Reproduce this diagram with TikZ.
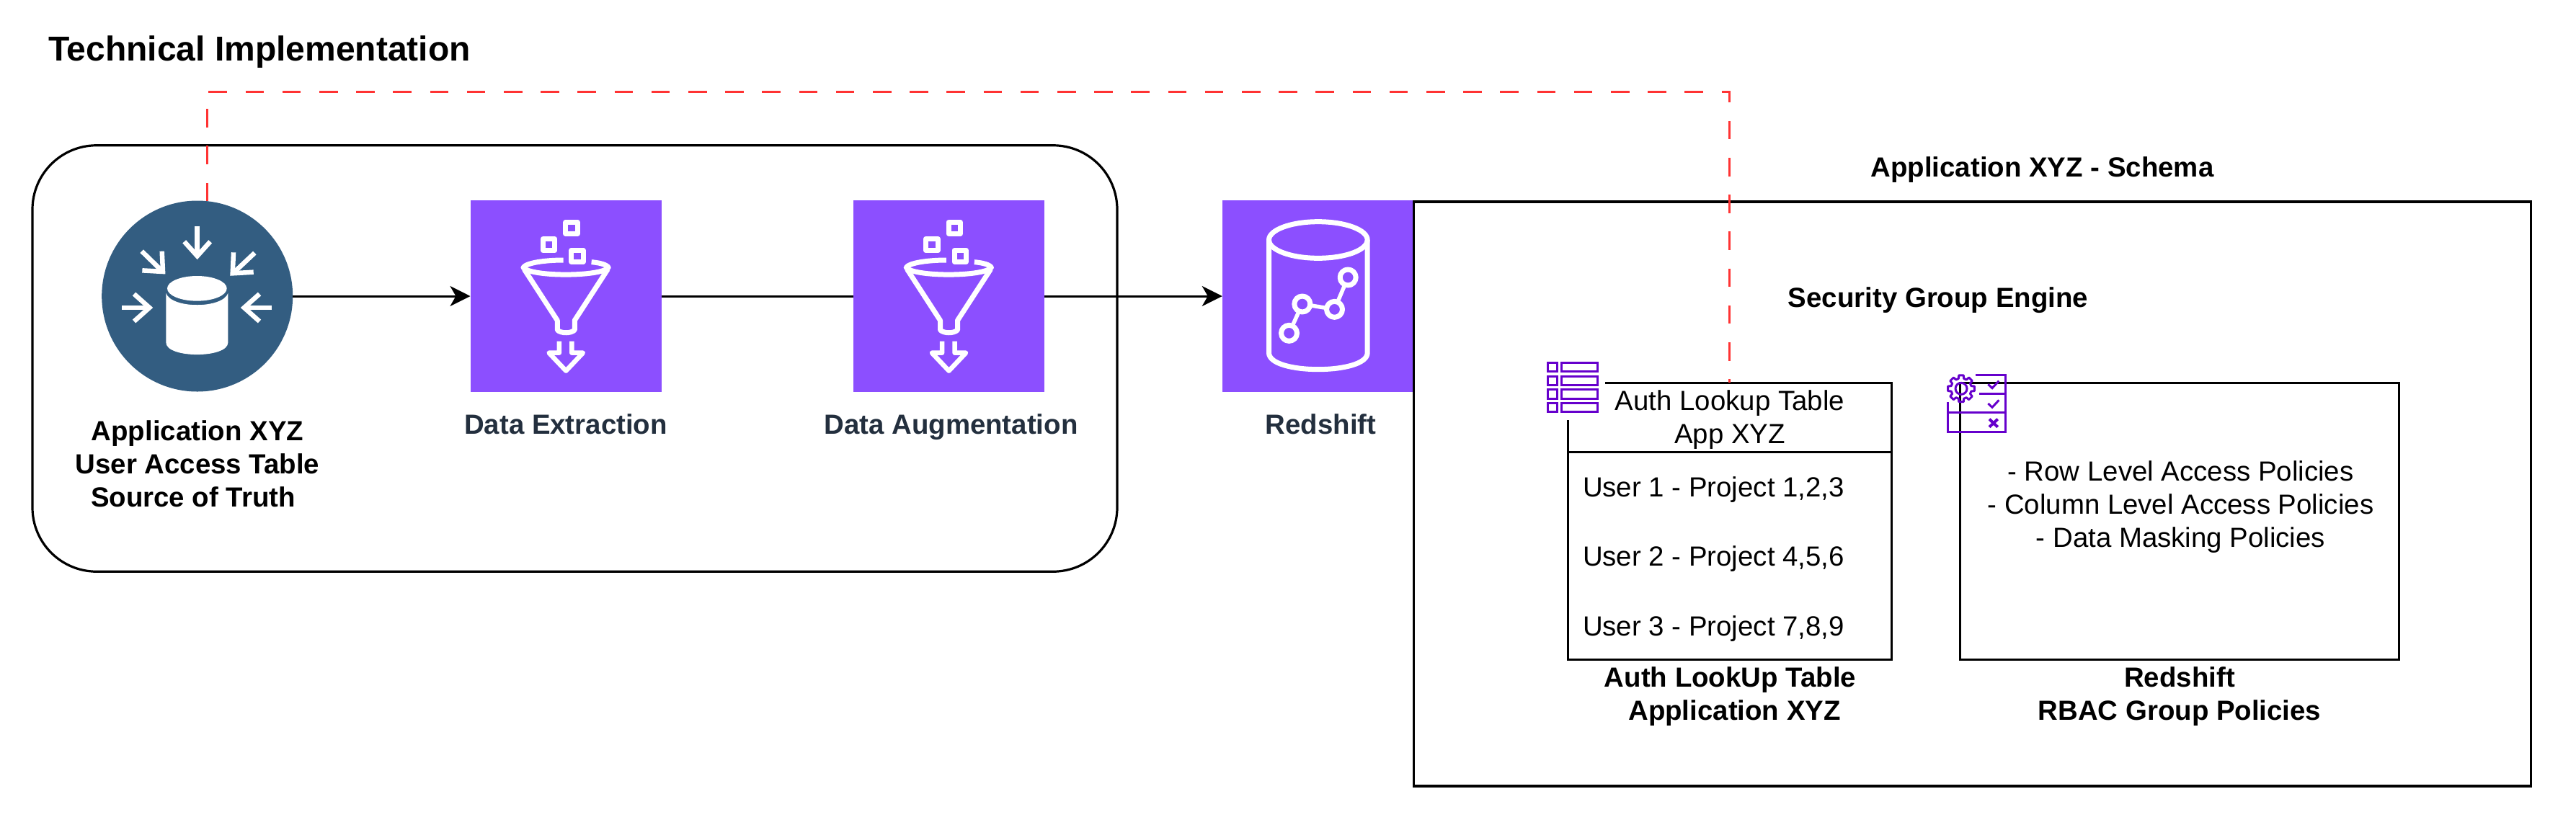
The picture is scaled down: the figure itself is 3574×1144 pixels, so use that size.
\documentclass[tikz,border=0pt]{standalone}
\usepackage{fontspec}
\setmainfont{Liberation Sans}
\usetikzlibrary{arrows.meta}
\definecolor{awspurple}{HTML}{8C4FFF}
\definecolor{srcblue}{HTML}{335D81}
\definecolor{reddash}{HTML}{FF3333}
\definecolor{awsdark}{HTML}{232F3E}
\definecolor{iconpurple}{HTML}{6600CC}
\tikzset{
  bodyfont/.style={font=\fontsize{38.4}{46}\selectfont},
  lbl/.style={bodyfont,inner sep=0pt,outer sep=0pt,align=center,text=black},
  lblbold/.style={font=\fontsize{38.4}{46}\selectfont\bfseries,inner sep=0pt,outer sep=0pt,align=center,text=black},
  awslabel/.style={lblbold,text=awsdark,anchor=base},
  purplebox/.style={rectangle,fill=awspurple,minimum size=265.5pt,inner sep=0pt,outer sep=0pt},
  plainbox/.style={rectangle,draw=black,line width=3pt,inner sep=0pt,outer sep=0pt},
  flow/.style={draw=black,line width=3pt,-{Stealth[length=28pt,width=28pt,inset=8pt]}},
  plainflow/.style={draw=black,line width=3pt},
  authlink/.style={draw=reddash,line width=3.2pt,dash pattern=on 25.6pt off 25.6pt},
  whitestroke/.style={draw=white,line width=7pt,line join=round},
  purplestroke/.style={draw=iconpurple,line width=3pt,line join=miter},
  funnelicon/.pic={
    \begin{scope}[x=.33333pt,y=-.33333pt,shift={(-436,-424)}]
      \draw[whitestroke] (425,274) .. controls (350,274) and (270,285) .. (258,305)
        .. controls (290,344) and (580,344) .. (613,305)
        .. controls (605,292) and (575,285) .. (542,282);
      \draw[whitestroke] (262,312) -- (400,525) -- (400,565)
        .. controls (415,580) and (457,580) .. (472,565) -- (472,525) -- (610,312);
      \foreach \cx/\cy in {459/140,365/210,483/257}
        \draw[whitestroke] (\cx-24.5,\cy-24.5) rectangle (\cx+24.5,\cy+24.5);
      \draw[whitestroke,line width=6.5pt] (408,612) -- (408,660) -- (365,660) -- (436,735)
        -- (507,660) -- (460,660) -- (460,612);
    \end{scope}
  },
  sourceicon/.pic={
    \begin{scope}[x=.33333pt,y=-.33333pt,shift={(-521,-452)}]
      \fill[white] (520,420) ellipse [x radius=124,y radius=52];
      \fill[white] (391,440) -- (391,645) .. controls (391,712) and (649,712) .. (649,645)
        -- (649,440) .. controls (625,505) and (415,505) .. (391,440) -- cycle;
      \begin{scope}[draw=white,line width=6.5pt,line join=miter]
        \draw (521,160) -- (521,280);
        \draw (467,225) -- (521,285) -- (575,225);
        \draw (208,500) -- (318,500);
        \draw (258,443) -- (322,500) -- (258,557);
        \draw (830,500) -- (722,500);
        \draw (780,443) -- (716,500) -- (780,557);
        \draw (290,265) -- (372,345);
        \draw (374,265) -- (378,350) -- (292,345);
        \draw (760,272) -- (675,352);
        \draw (672,270) -- (668,357) -- (755,352);
      \end{scope}
    \end{scope}
  },
  redshifticon/.pic={
    \begin{scope}[x=.33333pt,y=-.33333pt,shift={(-415,-424)}]
      \draw[whitestroke] (416,190) ellipse [x radius=205,y radius=76];
      \draw[whitestroke] (211,190) -- (211,660) .. controls (211,752) and (621,752) .. (621,660) -- (621,190);
      \draw[whitestroke,line width=5.5pt] (295,578) -- (350,457) -- (484,479) -- (540,346);
      \foreach \cx/\cy in {295/578,350/457,484/479,540/346}
        \draw[whitestroke,fill=awspurple] (\cx,\cy) circle [radius=33];
    \end{scope}
  },
  tableicon/.pic={
    \begin{scope}[x=.33333pt,y=-.33333pt]
      \foreach \ya/\yb in {70/107,126/163,182/219,237/275}{
        \draw[purplestroke] (53,\ya) rectangle (92,\yb);
        \draw[purplestroke] (110,\ya) rectangle (258,\yb);
      }
    \end{scope}
  },
  policyicon/.pic={
    \begin{scope}[x=.33333pt,y=-.33333pt]
      \draw[purplestroke] (152,60) -- (276,60) -- (276,298) -- (36,298) -- (36,175);
      \draw[purplestroke] (168,140) -- (276,140);
      \draw[purplestroke] (36,218) -- (276,218);
      \draw[purplestroke] (205,100) -- (222,116) -- (250,86);
      \draw[purplestroke] (205,180) -- (222,196) -- (250,166);
      \draw[purplestroke,line width=4pt] (210,245) -- (245,278) (245,245) -- (210,278);
      \begin{scope}[shift={(93,118)}]
        \draw[purplestroke,line join=round] (-10:56)
          \foreach \k in {0,...,7}{ -- (\k*45-10:56) -- (\k*45+10:56) -- (\k*45+15:43) -- (\k*45+30:43) } -- cycle;
        \draw[purplestroke] (0,0) circle [radius=24];
      \end{scope}
    \end{scope}
  }
}
\begin{document}
\begin{tikzpicture}[x=1pt,y=-1pt]
  \useasboundingbox (0,0) rectangle (3574,1144);

  \node[rectangle,draw=black,line width=3.2pt,rounded corners=89pt,minimum width=1505pt,minimum height=591.5pt,inner sep=0pt,outer sep=0pt] (pipeline) at (797.5,497.5) {};

  \node[circle,fill=srcblue,minimum size=265pt,inner sep=0pt,outer sep=0pt] (src) at (273.7,411) {};
  \pic at (src) {sourceicon};
  \node[purplebox] (ext) at (785.25,411) {};
  \pic at (ext) {funnelicon};
  \node[purplebox] (aug) at (1316.5,411) {};
  \pic at (aug) {funnelicon};
  \node[purplebox] (red) at (1828.5,411) {};
  \pic at (red) {redshifticon};

  \draw[flow] (src) -- (ext);
  \draw[plainflow] (ext) -- (aug);
  \draw[flow] (aug) -- (red);

  \node[plainbox,line width=3.4pt,minimum width=1550pt,minimum height=811pt] (schema) at (2736.5,685.5) {};

  \node[plainbox,minimum width=449pt,minimum height=384pt] (tbl) at (2399.5,723) {};
  \draw[plainflow] (tbl.west |- 0,627) -- (tbl.east |- 0,627);
  \fill[white] (2137,493) rectangle (2226.5,582.5);
  \pic at (2130,480) {tableicon};

  \node[plainbox,minimum width=609pt,minimum height=384pt] (rbac) at (3023.5,723) {};
  \pic at (2690,500) {policyicon};

  \coordinate (turn) at (2399.5,127.5);
  \draw[authlink] (src.84) |- (turn) -- (tbl.north);

  \node[lblbold,anchor=base west,font=\fontsize{48}{57}\selectfont\bfseries] (title) at (67,84) {Technical Implementation};
  \node[lblbold,anchor=base] (srclabel) at (274,703) {Application XYZ\\User Access Table\\Source of Truth\hspace*{12pt}};
  \node[awslabel] (extlabel) at (785,602) {Data Extraction};
  \node[awslabel] (auglabel) at (1319.5,602) {Data Augmentation};
  \node[awslabel] (redlabel) at (1832.5,602) {Redshift};
  \node[lblbold,anchor=base] (schemalabel) at (2833.5,245) {Application XYZ - Schema};
  \node[lblbold,anchor=base] (enginelabel) at (2689,426) {Security Group Engine};
  \node[lbl,anchor=base] (tblhead) at (2400,615) {Auth Lookup Table\\App XYZ};
  \node[lbl,anchor=base west,align=left,font=\fontsize{38.4}{96.5}\selectfont] (tblrows) at (2196,882) {User 1 - Project 1,2,3\\User 2 - Project 4,5,6\\User 3 - Project 7,8,9};
  \node[lblbold,anchor=base] (tblcap) at (2403.5,999) {Auth LookUp Table\hspace*{6pt}\\\hspace*{6pt}Application XYZ};
  \node[lbl,anchor=base] (rbactext) at (3025.5,759) {- Row Level Access Policies\\- Column Level Access Policies\\- Data Masking Policies};
  \node[lblbold,anchor=base] (rbaccap) at (3024,999) {Redshift\\RBAC Group Policies};
\end{tikzpicture}
\end{document}
